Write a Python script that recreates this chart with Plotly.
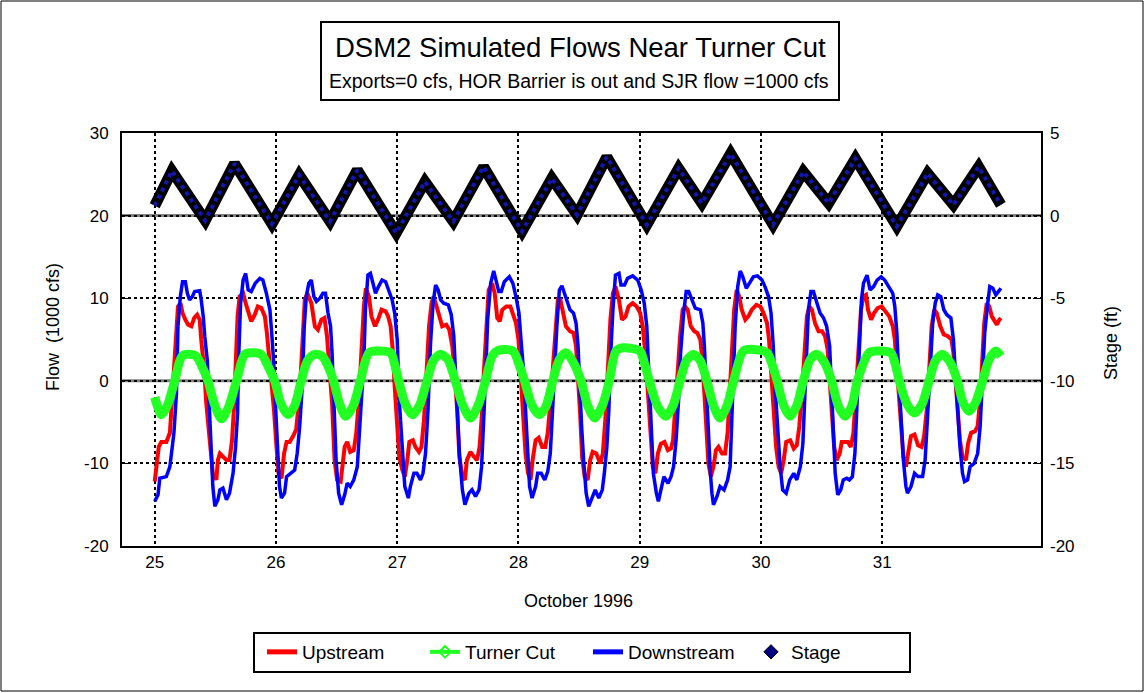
import numpy as np
import plotly.graph_objects as go

# ---------------- data (hours after 25 Oct 1996 00:00) ----------------
up_h = [0.0,0.3,0.8,1.3,2.3,3.0,3.3,3.8,4.3,4.6,5.1,5.5,6.06,6.6,7.25,7.8,8.4,8.9,9.2,9.8,10.2,10.7,11.1,11.5,12.2,12.5,12.9,13.5,14.2,14.8,15.3,15.7,16.0,16.4,16.8,17.5,18.0,18.5,19.1,19.8,20.4,21.1,21.8,22.2,22.6,23.1,23.6,24.1,24.5,25.1,25.6,26.1,26.7,27.4,28.0,28.7,29.2,29.7,30.2,31.0,31.7,32.3,33.0,33.6,34.1,34.6,35.1,35.6,36.1,36.8,37.2,37.6,38.1,38.7,39.4,39.9,40.4,40.9,41.4,41.8,42.4,42.9,43.6,44.2,44.9,45.7,46.2,46.7,47.1,47.5,48.0,48.4,49.0,49.5,50.0,50.4,51.1,51.6,52.3,52.8,53.3,53.7,54.3,54.8,55.2,55.8,56.4,56.9,57.7,58.3,58.9,59.4,59.9,60.3,60.9,61.4,61.8,62.5,63.2,63.8,64.3,64.7,65.1,65.6,66.1,66.8,67.3,67.8,68.3,68.8,69.6,70.4,71.0,71.5,72.0,72.4,72.9,73.4,73.9,74.4,74.8,75.4,76.0,76.7,77.3,77.8,78.3,78.8,79.3,79.8,80.3,80.8,81.4,82.2,82.9,83.4,83.8,84.2,84.6,85.1,85.7,86.2,86.7,87.4,88.2,88.7,89.2,89.7,90.2,90.7,91.2,91.9,92.5,93.2,93.8,94.6,95.4,96.1,96.6,97.1,97.6,98.1,98.6,99.1,99.6,100.2,100.9,101.6,102.2,102.6,103.0,103.5,104.0,104.5,105.0,105.5,106.1,106.8,107.4,108.0,108.4,108.8,109.3,109.6,110.1,110.6,111.1,111.6,112.3,112.9,113.4,113.8,114.2,114.7,115.2,115.7,116.2,116.9,117.5,118.2,119.1,119.9,120.5,121.2,121.6,122.0,122.5,123.0,123.5,124.0,124.5,125.0,125.8,126.5,127.1,127.6,128.1,128.6,129.1,129.6,130.1,130.7,131.4,132.1,132.7,133.2,133.6,134.0,134.5,135.0,135.6,136.0,136.7,137.2,137.8,138.3,138.8,139.3,139.8,140.3,140.8,141.2,141.8,142.4,143.1,143.9,144.7,145.4,146.1,146.5,146.9,147.4,147.8,148.2,148.7,149.2,149.7,150.4,151.1,151.8,152.3,152.9,153.3,153.8,154.3,154.8,155.5,156.2,157.0,157.7,158.1,158.5,158.9,159.4,159.9,160.6,161.0,161.6,162.4,162.9,163.4,163.8,164.2,164.7,165.2,165.7,166.2,166.7,167.2,167.5]
up_q = [-12.2,-10.8,-8.0,-7.4,-7.4,-6.3,-3.5,1.3,6.6,9.0,9.4,8.2,7.4,6.8,6.6,7.6,8.0,7.4,5.0,1.3,-2.7,-6.3,-8.8,-11.2,-12.0,-9.6,-8.8,-9.2,-9.6,-9.6,-7.2,-3.1,1.7,7.8,10.2,10.6,9.4,8.2,7.2,8.0,9.0,8.8,7.8,5.8,3.4,0.1,-3.5,-8.0,-11.2,-11.8,-8.8,-7.4,-7.4,-6.7,-5.9,-1.5,4.6,9.8,10.6,9.4,6.6,6.2,7.4,7.6,5.4,1.7,-2.7,-9.6,-12.0,-12.2,-9.6,-8.0,-7.4,-8.6,-8.4,-6.3,-2.3,3.4,9.0,11.2,10.2,7.8,6.6,7.4,8.6,8.4,7.8,6.6,3.8,-0.7,-5.5,-9.2,-10.8,-11.6,-9.6,-7.4,-7.2,-8.0,-8.6,-8.0,-4.7,0.5,6.6,9.4,10.2,9.0,7.4,6.6,6.8,6.2,4.2,0.9,-3.9,-9.2,-11.6,-12.0,-9.6,-8.6,-9.2,-9.6,-8.0,-4.7,0.5,6.6,11.0,11.8,10.6,7.6,7.2,8.6,9.0,9.0,8.0,7.0,5.0,0.5,-4.3,-8.8,-11.2,-12.0,-9.6,-7.2,-6.9,-8.0,-8.0,-6.3,-2.7,1.7,6.2,9.8,9.8,8.2,6.6,6.0,5.8,4.2,0.9,-3.9,-9.2,-11.6,-12.0,-9.6,-8.6,-8.8,-10.0,-8.8,-4.7,1.3,7.4,10.6,11.4,9.8,7.4,7.8,9.0,9.4,9.0,8.2,6.6,3.4,-1.5,-7.2,-10.4,-11.2,-8.8,-7.6,-7.4,-8.4,-8.2,-7.2,-3.5,1.3,5.4,8.6,9.0,8.6,6.6,6.0,5.8,5.0,2.5,-1.5,-6.7,-10.0,-11.6,-10.4,-8.4,-8.0,-8.8,-8.8,-6.3,-2.3,3.4,8.6,11.0,10.2,8.6,7.4,7.8,8.6,9.2,9.0,8.2,7.0,5.0,1.3,-3.5,-8.0,-10.4,-11.2,-9.6,-7.4,-7.2,-8.2,-7.8,-5.5,-1.5,3.4,7.8,9.0,8.6,7.0,6.0,6.0,5.4,3.8,0.5,-4.3,-8.0,-9.6,-8.8,-7.4,-7.4,-7.4,-8.0,-6.3,-1.5,4.6,8.6,10.2,10.4,8.6,7.4,8.2,8.8,9.0,8.4,7.8,6.6,5.0,1.7,-2.7,-7.2,-9.2,-10.4,-8.4,-6.7,-6.5,-7.8,-8.0,-6.7,-3.1,1.7,6.6,8.6,8.2,6.6,5.6,5.4,5.0,3.4,0.1,-3.5,-7.2,-9.2,-9.6,-7.6,-6.3,-6.1,-5.5,-2.3,2.5,7.0,9.4,9.0,7.8,7.4,6.8,7.4,7.6]

dn_h = [0.0,0.65,1.0,2.3,3.0,3.3,3.8,4.3,4.6,5.07,5.5,6.06,6.46,6.9,7.45,7.9,8.9,9.2,9.6,9.9,10.4,10.75,11.2,11.5,11.9,12.5,12.9,13.5,14.2,14.8,15.5,16.0,16.4,16.6,17.0,17.5,18.0,18.5,19.1,19.9,20.8,21.4,22.1,22.8,23.2,23.6,23.95,24.4,24.7,25.07,25.7,26.1,26.9,27.7,28.2,28.7,29.2,29.6,30.0,30.5,31.0,31.5,32.0,32.7,33.3,33.8,34.3,34.8,35.1,35.4,35.9,36.4,37.0,37.6,38.1,38.7,39.4,40.1,40.4,40.9,41.4,41.7,42.2,42.7,43.2,43.7,44.3,45.0,45.7,46.3,47.0,47.5,48.0,48.4,49.0,49.5,50.2,50.6,51.3,51.9,52.6,53.1,53.6,54.1,54.6,55.1,55.6,56.1,56.6,57.2,58.1,58.7,59.2,59.5,59.9,60.3,60.9,61.4,62.2,62.8,63.5,64.2,64.7,65.1,65.5,65.9,66.5,67.1,67.6,68.1,68.6,69.2,70.2,70.9,71.5,72.1,72.5,73.0,73.4,73.9,74.2,74.7,75.4,75.8,76.5,77.2,77.8,78.3,78.7,79.1,79.6,80.1,80.6,81.1,81.6,82.2,82.9,83.4,83.8,84.1,84.5,84.9,85.4,85.9,86.6,87.2,87.9,88.6,89.0,89.5,89.9,90.2,90.7,91.2,91.9,92.3,93.0,93.6,94.6,95.6,96.3,96.9,97.4,97.8,98.3,98.7,99.3,99.7,100.2,100.8,101.6,102.2,102.7,103.2,103.7,104.1,104.7,105.2,105.7,106.3,107.0,108.0,108.5,108.8,109.2,109.6,110.0,110.3,110.6,111.3,111.9,112.7,113.4,113.9,114.2,114.6,114.9,115.4,115.9,116.4,117.1,117.7,118.5,119.3,120.2,120.8,121.5,122.0,122.4,122.8,123.3,123.8,124.3,125.0,125.7,126.5,127.1,127.8,128.3,128.6,129.0,129.4,129.9,130.4,131.1,131.7,132.4,133.0,133.6,133.9,134.4,134.7,135.2,135.8,136.3,137.0,137.5,138.1,138.6,139.0,139.5,139.9,140.3,141.0,141.6,142.3,143.0,143.8,144.5,145.4,146.1,146.5,146.9,147.4,147.8,148.2,148.7,149.0,149.7,150.4,151.1,152.0,152.5,153.0,153.5,154.0,154.5,155.0,155.6,156.2,156.8,157.6,158.1,158.5,158.9,159.4,159.9,160.3,160.9,161.4,162.2,162.9,163.4,163.9,164.3,164.9,165.3,165.9,166.5,167.0,167.5]
dn_q = [-14.6,-13.8,-11.8,-11.6,-10.4,-8.8,-6.3,-1.5,6.6,10.2,12.0,12.0,10.6,9.8,10.2,10.8,10.9,9.8,7.8,5.4,2.5,-2.3,-8.0,-12.8,-15.2,-14.4,-13.2,-13.0,-14.4,-13.6,-11.2,-8.0,-3.9,2.5,9.4,12.2,13.0,11.0,10.8,11.8,12.4,12.2,10.6,8.6,5.4,1.7,-3.5,-9.6,-12.8,-14.2,-13.6,-11.6,-11.2,-10.8,-8.8,-5.5,-0.7,6.6,10.2,11.8,12.2,10.2,9.6,10.0,10.6,10.6,8.2,6.6,3.4,-2.3,-9.6,-13.6,-15.0,-13.8,-12.4,-12.8,-12.0,-10.4,-7.2,-3.1,2.5,8.6,12.8,13.0,11.6,10.6,11.4,12.2,12.0,11.0,9.8,8.2,5.0,-2.3,-8.8,-12.8,-14.2,-12.8,-11.2,-11.2,-12.0,-11.2,-8.8,-3.5,4.6,9.4,11.6,11.0,9.8,9.4,9.2,8.0,5.4,1.3,-3.5,-8.8,-13.2,-15.0,-13.6,-13.2,-14.0,-13.2,-10.4,-5.5,0.5,7.4,11.8,13.3,12.2,10.8,10.8,12.0,12.6,11.8,10.2,8.2,5.0,1.3,-3.5,-8.8,-12.8,-14.2,-12.8,-11.2,-11.2,-12.0,-11.0,-8.8,-4.7,0.5,6.6,11.0,11.5,10.6,9.4,8.6,8.2,7.0,4.2,-0.7,-5.5,-9.6,-13.6,-15.2,-14.0,-13.2,-14.2,-13.2,-11.2,-8.0,-3.5,2.5,8.6,12.8,13.0,11.6,11.6,12.4,12.7,12.2,11.0,9.4,6.6,0.5,-5.5,-11.2,-13.6,-14.6,-13.2,-11.6,-12.4,-11.6,-10.4,-7.2,-2.3,3.4,8.2,10.8,10.8,9.8,8.8,8.6,7.0,4.2,-0.7,-7.2,-11.2,-13.6,-15.0,-14.0,-12.8,-13.2,-12.0,-10.4,-5.5,0.5,6.6,11.4,13.3,12.6,11.2,11.8,12.6,12.7,12.2,11.4,10.2,8.2,4.6,-0.7,-5.5,-10.4,-13.2,-13.6,-12.0,-11.2,-12.0,-10.4,-7.6,-3.1,2.5,8.6,10.8,10.8,9.4,8.2,7.6,6.6,4.2,-0.7,-7.2,-11.2,-13.8,-13.2,-12.0,-11.8,-12.0,-11.6,-8.8,-3.1,4.6,9.8,11.8,12.8,11.0,11.4,12.2,12.6,12.2,11.4,10.6,9.0,5.8,-0.7,-6.3,-9.6,-12.8,-13.6,-12.8,-11.2,-11.6,-11.6,-9.6,-4.7,1.3,7.0,9.4,10.4,10.2,8.6,8.0,7.6,5.0,0.9,-3.9,-8.0,-11.2,-12.2,-12.0,-10.4,-10.0,-8.8,-5.5,0.5,5.8,9.4,11.4,11.2,10.4,10.8,11.2]

tc_h = [0,0.5,1.3,2.5,3.95,5.0,5.6,6.6,8.2,9.3,10.55,11.8,13.2,14.6,16.2,17.8,19.1,21.1,22.4,23.75,25.0,26.4,27.7,29.0,30.3,31.7,33.1,34.3,35.4,36.6,37.8,39.3,40.7,42.4,44.0,46.7,47.5,48.3,49.6,51.0,52.4,53.9,55.2,56.6,58.0,59.5,61.0,62.5,64.0,65.5,66.8,68.1,70.9,72.1,73.2,74.7,76.2,77.5,78.8,80.1,81.4,82.9,84.4,85.7,87.1,88.6,90.0,91.3,92.7,96.0,97.0,97.9,99.5,101.2,102.6,104.0,105.3,106.7,108.0,109.3,110.6,111.9,113.3,114.6,116.5,118.5,121.2,122.2,123.2,124.5,125.8,127.1,128.4,129.8,131.1,132.6,134.0,135.3,136.7,138.0,139.1,141.4,143.1,145.7,146.6,147.4,148.9,150.4,151.9,153.3,154.6,156.0,157.5,158.9,160.0,161.2,162.5,163.9,165.2,166.5,167.5]
tc_q = [-2.0,-3.0,-4.1,-3.0,0.0,2.5,3.1,3.2,3.0,1.8,0.0,-2.8,-4.6,-3.2,0.0,3.2,3.4,3.2,1.8,0.0,-2.8,-4.1,-3.0,0.0,2.5,3.2,3.0,1.8,0.0,-2.8,-4.3,-3.0,0.0,3.4,3.6,3.4,2.0,0.0,-2.8,-4.1,-3.0,0.0,2.5,3.2,2.6,0.0,-3.0,-4.5,-3.0,0.0,3.0,3.7,3.6,2.0,0.0,-3.0,-4.1,-3.0,0.0,2.6,3.4,2.2,0.0,-3.0,-4.5,-3.0,0.0,3.6,4.0,3.6,2.0,0.0,-3.0,-4.3,-3.0,0.0,2.5,3.2,2.4,0.0,-3.0,-4.5,-3.0,0.0,3.6,3.8,3.4,2.0,0.0,-3.0,-4.3,-3.0,0.0,2.6,3.2,2.2,0.0,-3.0,-4.3,-3.0,0.0,3.4,3.6,3.4,2.0,0.0,-2.8,-3.9,-2.8,0.0,2.5,3.2,2.2,0.0,-2.6,-3.7,-2.6,0.0,2.6,3.6,3.0]

st_h = [0.0,3.4,10.0,15.8,23.2,28.6,34.7,40.1,47.8,53.5,59.1,65.1,72.7,78.6,83.6,89.5,97.4,103.7,108.3,114.0,122.4,128.4,133.4,138.7,146.9,153.0,158.1,163.1,167.5]
st_ft = [0.6,2.7,-0.3,3.15,-0.5,2.45,-0.35,2.75,-1.05,2.05,-0.35,2.95,-0.95,2.25,0.05,3.55,-0.55,2.85,0.75,3.75,-0.55,2.65,0.75,3.45,-0.65,2.55,0.65,2.95,0.65]

day_ticks = [25, 26, 27, 28, 29, 30, 31]
day_labels = ["25", "26", "27", "28", "29", "30", "31"]
flow_ticks = [-20, -10, 0, 10, 20, 30]
flow_labels = ["-20", "-10", "0", "10", "20", "30"]
stage_ticks = [-20, -15, -10, -5, 0, 5]
stage_labels = ["-20", "-15", "-10", "-5", "0", "5"]

# ---------------- geometry helpers (pixel -> paper) ----------------
W, H = 1145, 693
L, R, T, B = 122, 1041, 133, 546
def px(x):
    return (x - L) / (R - L)
def py(y):
    return (B - y) / (B - T)

def days(h):
    return 25 + np.asarray(h) / 24.0

FONT = "Arial, Liberation Sans, sans-serif"

fig = go.Figure()
fig.add_trace(go.Scatter(x=days(up_h), y=up_q, mode="lines", name="Upstream",
                         line=dict(color="#FF0000", width=4), showlegend=False))
fig.add_trace(go.Scatter(x=days(dn_h), y=dn_q, mode="lines", name="Downstream",
                         line=dict(color="#0000FF", width=3.5), showlegend=False))
fig.add_trace(go.Scatter(x=days(tc_h), y=tc_q, mode="lines", name="Turner Cut",
                         line=dict(color="#22FF22", width=9, shape="spline", smoothing=0.8),
                         showlegend=False))
fig.add_trace(go.Scatter(x=days(st_h), y=st_ft, mode="lines", name="Stage", yaxis="y2",
                         line=dict(color="#000000", width=11), showlegend=False))
fig.add_trace(go.Scatter(x=days(st_h), y=st_ft, mode="lines", name="Stage", yaxis="y2",
                         line=dict(color="#1515B0", width=4, dash="dot"), showlegend=False))

# legend entries
fig.add_trace(go.Scatter(x=[None], y=[None], mode="lines", name="Upstream",
                         line=dict(color="#FF0000", width=5), legendrank=1))
fig.add_trace(go.Scatter(x=[None], y=[None], mode="lines+markers", name="Turner Cut",
                         line=dict(color="#22FF22", width=4),
                         marker=dict(symbol="diamond-open", size=9, color="#22FF22",
                                     line=dict(width=2)), legendrank=2))
fig.add_trace(go.Scatter(x=[None], y=[None], mode="lines", name="Downstream",
                         line=dict(color="#0000FF", width=5), legendrank=3))
fig.add_trace(go.Scatter(x=[None], y=[None], mode="markers", name="Stage",
                         marker=dict(symbol="diamond", size=11, color="#000080",
                                     line=dict(color="#000000", width=1)), legendrank=4))

shapes = [
    dict(type="line", xref="paper", yref="y", x0=0, x1=1, y0=0, y1=0,
         line=dict(color="#808080", width=3), layer="below"),
    dict(type="line", xref="paper", yref="y", x0=0, x1=1, y0=20, y1=20,
         line=dict(color="#808080", width=3), layer="below"),
    dict(type="rect", xref="paper", yref="paper", x0=px(321), x1=px(839), y0=py(100), y1=py(22),
         line=dict(color="#000000", width=2), fillcolor="rgba(0,0,0,0)"),
    dict(type="rect", xref="paper", yref="paper", x0=px(254), x1=px(910), y0=py(672), y1=py(633),
         line=dict(color="#000000", width=2), fillcolor="rgba(0,0,0,0)"),
    dict(type="rect", xref="paper", yref="paper", x0=px(1), x1=px(1143), y0=py(691), y1=py(1),
         line=dict(color="#000000", width=1), fillcolor="rgba(0,0,0,0)"),
]

annotations = [
    dict(text="DSM2 Simulated Flows Near Turner Cut", xref="paper", yref="paper",
         x=px(580), y=py(47), showarrow=False, xanchor="center", yanchor="middle",
         font=dict(family=FONT, size=27.5, color="#000000")),
    dict(text="Exports=0 cfs, HOR Barrier is out and SJR flow =1000 cfs", xref="paper", yref="paper",
         x=px(579), y=py(81), showarrow=False, xanchor="center", yanchor="middle",
         font=dict(family=FONT, size=19.5, color="#000000")),
    dict(text="October 1996", xref="paper", yref="paper", x=px(578), y=py(601),
         showarrow=False, xanchor="center", yanchor="middle",
         font=dict(family=FONT, size=18, color="#000000")),
    dict(text="Flow\u00a0\u00a0(1000 cfs)", xref="paper", yref="paper", x=px(53), y=py(327),
         showarrow=False, xanchor="center", yanchor="middle", textangle=-90,
         font=dict(family=FONT, size=18, color="#000000")),
    dict(text="Stage (ft)", xref="paper", yref="paper", x=px(1111), y=py(343),
         showarrow=False, xanchor="center", yanchor="middle", textangle=-90,
         font=dict(family=FONT, size=18, color="#000000")),
]

fig.update_layout(
    width=W, height=H,
    margin=dict(l=L, r=W - R, t=T, b=H - B, pad=0),
    paper_bgcolor="#FFFFFF", plot_bgcolor="#FFFFFF",
    font=dict(family=FONT, size=17, color="#000000"),
    showlegend=True,
    legend=dict(orientation="h", x=px(588), y=py(652), xanchor="center", yanchor="middle",
                bgcolor="rgba(0,0,0,0)", borderwidth=0, font=dict(family=FONT, size=19),
                entrywidth=118, itemwidth=30, traceorder="normal"),
    xaxis=dict(range=[24.73, 32.31], tickvals=day_ticks, ticktext=day_labels,
               showgrid=True, gridcolor="#000000", gridwidth=2, griddash="dot",
               showline=True, linecolor="#000000", linewidth=2, mirror=True,
               ticks="", zeroline=False, tickfont=dict(size=17)),
    yaxis=dict(range=[-20, 30], tickvals=flow_ticks, ticktext=flow_labels,
               showgrid=True, gridcolor="#000000", gridwidth=2, griddash="dot",
               showline=True, linecolor="#000000", linewidth=2, mirror=True,
               ticks="inside", ticklen=8, tickcolor="#000000", zeroline=False,
               ticklabelstandoff=8, tickfont=dict(size=17)),
    yaxis2=dict(range=[-20, 5], tickvals=stage_ticks, ticktext=stage_labels,
                overlaying="y", side="right",
                showgrid=False, showline=False, zeroline=False,
                ticks="inside", ticklen=8, tickcolor="#000000",
                ticklabelstandoff=8, tickfont=dict(size=17)),
    shapes=shapes, annotations=annotations,
)

fig.write_html("out.html", config={"displayModeBar": False},
               post_script="document.body.style.margin='0px';document.body.style.overflow='hidden';")
